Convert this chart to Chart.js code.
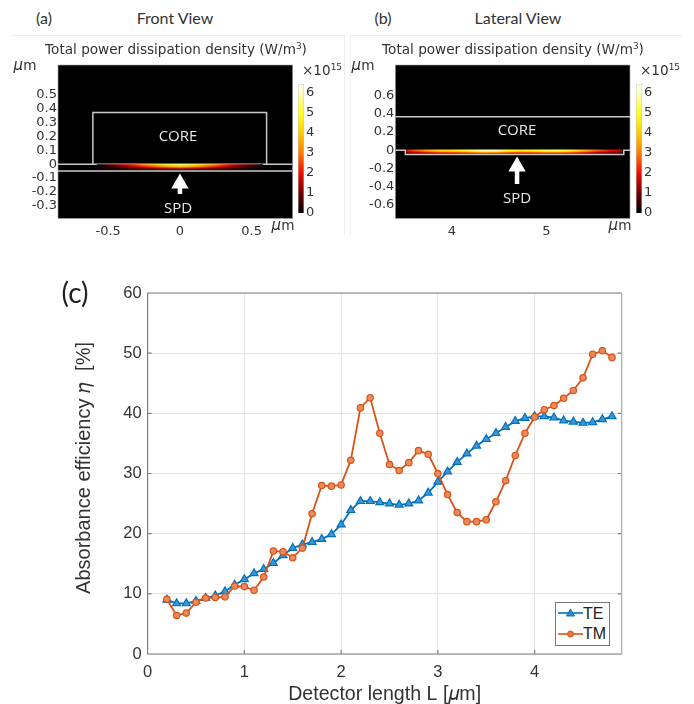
<!DOCTYPE html>
<html>
<head>
<meta charset="utf-8">
<script src="https://cdn.jsdelivr.net/npm/chart.js@4"></script>
<style>
html, body { margin: 0; padding: 0; background: #fff; }
#page { position: relative; width: 694px; height: 704px; overflow: hidden; }
canvas { position: absolute; display: block; }
.blurred { filter: blur(0.55px); }
.soft { filter: blur(0.3px); }
.lbl { position: absolute; white-space: nowrap; line-height: 1; transform: translate(-50%, -50%); }
.head { font-family: "Lato", sans-serif; font-size: 16px; color: #333; }
.dv { font-family: "DejaVu Sans", sans-serif; font-size: 13.6px; color: #333; filter: blur(0.35px); }
.dv sup { font-size: 9px; vertical-align: 5px; line-height: 0; }
.um i { font-size: 15px; }
.white { font-family: "Open Sans", sans-serif; font-size: 15px; color: #e8e8e8; filter: blur(0.3px); }
.frame { position: absolute; background: #eee; }
#legend { position: absolute; left: 555px; top: 602px; width: 53px; height: 42px; background: #fff; border: 1px solid #777; font-family: "Liberation Sans", sans-serif; font-size: 16px; color: #222; }
#legend svg { position: absolute; left: 1px; width: 26px; height: 14px; }
#legend span { position: absolute; left: 27px; line-height: 18px; }
</style>
</head>
<body>
<div id="page">
  <div class="frame" style="left:13px;top:35px;width:331px;height:1px"></div>
  <div class="frame" style="left:344px;top:35px;width:1px;height:200px"></div>
  <div class="frame" style="left:350px;top:35px;width:332px;height:1px"></div>
  <div class="frame" style="left:350px;top:35px;width:1px;height:200px"></div>

  <canvas id="panelA" width="345" height="190" class="blurred" style="left:0;top:55px"></canvas>
  <canvas id="panelB" width="290" height="190" class="blurred" style="left:350px;top:55px"></canvas>
  <canvas id="barA" width="55" height="150" class="blurred" style="left:290px;top:76px"></canvas>
  <canvas id="barB" width="55" height="150" class="blurred" style="left:628px;top:76px"></canvas>
  <canvas id="chartC" width="634" height="424" class="soft" style="left:60px;top:280px"></canvas>

  <div class="lbl head" style="left:44px;top:18px">(a)</div>
  <div class="lbl head" style="left:175px;top:18px">Front View</div>
  <div class="lbl head" style="left:383px;top:18px">(b)</div>
  <div class="lbl head" style="left:518px;top:18px">Lateral View</div>
  <div class="lbl head" style="left:75px;top:292px;font-size:28px;color:#222">(c)</div>

  <div class="lbl dv" style="left:176px;top:50px">Total power dissipation density (W/m<sup>3</sup>)</div>
  <div class="lbl dv" style="left:513px;top:50px">Total power dissipation density (W/m<sup>3</sup>)</div>
  <div class="lbl dv" style="left:322px;top:71px">×10<sup>15</sup></div>
  <div class="lbl dv" style="left:660px;top:71px">×10<sup>15</sup></div>
  <div class="lbl dv um" style="left:25px;top:65px"><i>μ</i>m</div>
  <div class="lbl dv um" style="left:283px;top:225px"><i>μ</i>m</div>
  <div class="lbl dv um" style="left:363px;top:65px"><i>μ</i>m</div>
  <div class="lbl dv um" style="left:620px;top:225px"><i>μ</i>m</div>

  <div class="lbl white" style="left:178px;top:135px">CORE</div>
  <div class="lbl white" style="left:178px;top:207px">SPD</div>
  <div class="lbl white" style="left:517px;top:129px">CORE</div>
  <div class="lbl white" style="left:517px;top:197px">SPD</div>

  <div id="legend">
    <svg style="top:3px"><line x1="1" y1="7" x2="26" y2="7" stroke="#0072BD" stroke-width="1.6"/><path d="M13.5 3 L17.5 10 L9.5 10 Z" fill="#2f8ccb" stroke="#0072BD"/></svg>
    <span style="top:2px">TE</span>
    <svg style="top:24px"><line x1="1" y1="7" x2="26" y2="7" stroke="#D95319" stroke-width="1.6"/><circle cx="13.5" cy="7" r="3" fill="#e8743f" stroke="#D95319"/></svg>
    <span style="top:22px">TM</span>
  </div>
</div>

<script>
// chart (c)
var detectorLength = [0.2,0.3,0.4,0.5,0.6,0.7,0.8,0.9,1.0,1.1,1.2,1.3,1.4,1.5,1.6,1.7,1.8,1.9,2.0,2.1,2.2,2.3,2.4,2.5,
    2.6,2.7,2.8,2.9,3.0,3.1,3.2,3.3,3.4,3.5,3.6,3.7,3.8,3.9,4.0,4.1,4.2,4.3,4.4,4.5,4.6,4.7,4.8];
var teValues = [9.0,8.4,8.4,8.8,9.3,9.7,10.4,11.5,12.4,13.4,14.1,15.1,16.4,17.6,18.2,18.6,19.1,19.9,21.5,23.9,25.4,25.4,25.2,25.0,
    24.8,25.0,25.5,26.8,28.6,30.3,31.9,33.3,34.6,35.7,36.7,37.7,38.7,39.2,39.5,39.5,39.3,38.8,38.6,38.4,38.5,39.0,39.5];
var tmValues = [9.1,6.4,6.8,8.6,9.3,9.4,9.5,11.3,11.2,10.6,12.8,17.1,17.0,16.0,17.6,23.3,28.0,27.9,28.1,32.2,40.9,42.6,36.7,31.5,
    30.5,31.8,33.8,33.2,30.0,26.5,23.5,22.0,22.0,22.3,25.3,28.8,33.0,36.7,39.4,40.6,41.3,42.5,43.8,45.9,49.8,50.4,49.3];
var tickColor = '#333';

// panel (a) front view, µm
var frontTicksX = [-0.5, 0, 0.5];
var frontTicksY = [-0.3, -0.2, -0.1, 0, 0.1, 0.2, 0.3, 0.4, 0.5];
var coreFrontX = [-0.607, -0.607, 0.604, 0.604];
var coreFrontY = [0, 0.373, 0.373, 0];
var slabFrontTop = 0;
var slabFrontBottom = -0.05;
// peak dissipation along the band, x10^15
var frontX = [-0.58,-0.5,-0.45,-0.4,-0.35,-0.3,-0.25,-0.2,-0.15,-0.1,-0.05,0,0.05,0.1,0.15,0.2,0.25,0.3,0.35,0.4,0.45,0.5,0.58];
var frontPeak = [0,0.7,1.1,1.5,2.0,2.5,3.1,3.6,4.2,4.8,5.2,5.5,5.2,4.8,4.2,3.6,3.1,2.5,2.0,1.5,1.1,0.7,0];
var frontRowsY = [-0.006, -0.016, -0.026, -0.036];
var frontRowsK = [1, 0.72, 0.45, 0.2];

// panel (b) lateral view, µm
var lateralTicksX = [4, 5];
var lateralTicksY = [-0.6, -0.4, -0.2, 0, 0.2, 0.4, 0.6];
var boxLateralX = [3.403, 3.509, 3.509, 5.818, 5.818, 5.884];
var boxLateralY = [0, 0, -0.047, -0.047, 0, 0];
var coreLateralY = 0.365;
var lateralX = [3.52,3.64,3.76,3.88,4.0,4.12,4.24,4.36,4.48,4.6,4.72,4.84,4.96,5.08,5.2,5.32,5.44,5.56,5.68,5.8];
var lateralPeak = [2.0,2.8,3.6,4.2,4.4,4.8,5.6,6.0,5.8,5.0,4.6,4.8,5.2,5.4,5.2,4.4,3.4,2.6,2.0,1.6];
var lateralRowsY = [-0.003, -0.013, -0.024, -0.034];
var lateralRowsK = [1, 0.78, 0.5, 0.3];

// colour bar
var barTicks = [0, 1, 2, 3, 4, 5, 6];
var barMax = 6.45;
var heatStops = [[0,0,0,0],[1,110,0,0],[2,240,10,0],[3,255,125,0],[4,255,205,0],[5,255,255,30],[6,255,255,190],[6.45,255,255,255]];

function heatColor(v) {
    for (var i = 1; i < heatStops.length; i++) {
        if (v <= heatStops[i][0]) {
            var a = heatStops[i - 1], b = heatStops[i];
            var t = (v - a[0]) / (b[0] - a[0]);
            return 'rgb(' + [1, 2, 3].map(function (k) { return Math.round(a[k] + (b[k] - a[k]) * t); }).join(',') + ')';
        }
    }
    return 'rgb(255,255,255)';
}

function pairs(xs, ys) {
    return xs.map(function (x, i) { return { x: x, y: ys[i] }; });
}

// a row of the band: stroke follows the profile through the x scale
function heatRow(y, k, xs, peak) {
    return {
        data: [{ x: xs[0], y: y }, { x: xs[xs.length - 1], y: y }],
        borderWidth: 1.7,
        pointRadius: 0,
        borderColor: function (c) {
            var sx = c.chart.scales.x;
            var x0 = sx ? sx.getPixelForValue(xs[0]) : NaN, x1 = sx ? sx.getPixelForValue(xs[xs.length - 1]) : NaN;
            if (!isFinite(x0) || !isFinite(x1)) return '#000';
            var g = c.chart.ctx.createLinearGradient(x0, 0, x1, 0);
            xs.forEach(function (x, i) {
                g.addColorStop((x - xs[0]) / (xs[xs.length - 1] - xs[0]), heatColor(peak[i] * k));
            });
            return g;
        }
    };
}

function outline(xs, ys) {
    return { data: pairs(xs, ys), borderColor: '#c8c8c8', borderWidth: 1.5, pointRadius: 0 };
}

function arrow(x, tailY, headY) {
    return {
        data: [{ x: x, y: tailY }, { x: x, y: headY }],
        borderColor: '#fff',
        backgroundColor: '#fff',
        borderWidth: 4.5,
        pointStyle: 'triangle',
        pointRadius: [0, 10],
        pointBorderWidth: 0
    };
}

var blackPlot = {
    id: 'blackPlot',
    beforeDatasetsDraw: function (chart) {
        var a = chart.chartArea;
        chart.ctx.fillStyle = '#000';
        chart.ctx.fillRect(a.left, a.top, a.width, a.height);
    },
    afterDatasetsDraw: function (chart) {
        var a = chart.chartArea;
        chart.ctx.strokeStyle = '#aaa';
        chart.ctx.lineWidth = 0.6;
        chart.ctx.strokeRect(a.left, a.top, a.width, a.height);
    }
};

// tick label overhang must not move the plot rectangle
function noOverhang(s) {
    s.paddingTop = 0; s.paddingBottom = 0; s.paddingLeft = 0; s.paddingRight = 0;
}

function heatPanel(id, datasets, xr, yr, tx, ty, leftW, pad) {
    return new Chart(document.getElementById(id), {
        type: 'line',
        data: { datasets: datasets },
        plugins: [blackPlot],
        options: {
            responsive: false,
            animation: false,
            layout: { padding: pad },
            plugins: { legend: { display: false }, tooltip: { enabled: false } },
            scales: {
                x: {
                    type: 'linear', min: xr[0], max: xr[1],
                    grid: { display: false, drawTicks: false }, border: { display: false },
                    afterBuildTicks: function (s) { s.ticks = tx.map(function (v) { return { value: v }; }); },
                    afterFit: function (s) { s.height = 26.5; noOverhang(s); },
                    ticks: { autoSkip: false, maxRotation: 0, padding: 5.5, color: tickColor, font: { family: 'DejaVu Sans', size: 13 } }
                },
                y: {
                    min: yr[0], max: yr[1],
                    grid: { display: false, drawTicks: false }, border: { display: false },
                    afterBuildTicks: function (s) { s.ticks = ty.map(function (v) { return { value: v }; }); },
                    afterFit: function (s) { s.width = leftW; noOverhang(s); },
                    ticks: { autoSkip: false, padding: 1, color: tickColor, font: { family: 'DejaVu Sans', size: 13 } }
                }
            }
        }
    });
}

var frontSets = [];
frontRowsY.forEach(function (y, i) { frontSets.push(heatRow(y, frontRowsK[i], frontX, frontPeak)); });
frontSets.push(outline(coreFrontX, coreFrontY));
frontSets.push(outline([-0.85, 0.786], [slabFrontTop, slabFrontTop]));
frontSets.push(outline([-0.85, 0.786], [slabFrontBottom, slabFrontBottom]));
frontSets.push(arrow(0, -0.215, -0.139));
heatPanel('panelA', frontSets, [-0.85, 0.786], [-0.392, 0.715], frontTicksX, frontTicksY, 58,
    { left: 0, right: 52.3, top: 4, bottom: 0 });

var lateralSets = [];
lateralSets.push(outline([3.403, 5.884], [coreLateralY, coreLateralY]));
lateralSets.push(outline(boxLateralX, boxLateralY));
lateralRowsY.forEach(function (y, i) { lateralSets.push(heatRow(y, lateralRowsK[i], lateralX, lateralPeak)); });
lateralSets.push(arrow(4.69, -0.37, -0.179));
heatPanel('panelB', lateralSets, [3.403, 5.884], [-0.747, 0.93], lateralTicksX, lateralTicksY, 45.3,
    { left: 0, right: 9, top: 4, bottom: 0 });

function colorBar(id) {
    new Chart(document.getElementById(id), {
        type: 'bar',
        data: {
            labels: [''],
            datasets: [{
                data: [[0, barMax]],
                barPercentage: 1,
                categoryPercentage: 1,
                borderWidth: 0.8,
                borderColor: '#c4c4c4',
                backgroundColor: function (c) {
                    var sy = c.chart.scales.y;
                    var y0 = sy ? sy.getPixelForValue(0) : NaN, y1 = sy ? sy.getPixelForValue(barMax) : NaN;
                    if (!isFinite(y0) || !isFinite(y1)) return '#000';
                    var g = c.chart.ctx.createLinearGradient(0, y0, 0, y1);
                    heatStops.forEach(function (s) { g.addColorStop(s[0] / barMax, heatColor(s[0])); });
                    return g;
                }
            }]
        },
        options: {
            responsive: false,
            animation: false,
            layout: { padding: { left: 8, right: 0, top: 8, bottom: 13 } },
            plugins: { legend: { display: false }, tooltip: { enabled: false } },
            scales: {
                x: { display: false },
                y: {
                    position: 'right', min: 0, max: barMax,
                    grid: { display: false, drawTicks: false }, border: { display: false },
                    afterBuildTicks: function (s) { s.ticks = barTicks.map(function (v) { return { value: v }; }); },
                    afterFit: function (s) { s.width = 41; noOverhang(s); },
                    ticks: { padding: 2, color: tickColor, font: { family: 'DejaVu Sans', size: 13 } }
                }
            }
        }
    });
}
colorBar('barA');
colorBar('barB');

// frame and inward ticks of chart (c)
var boxTicks = {
    id: 'boxTicks',
    afterDatasetsDraw: function (chart) {
        var c = chart.ctx, a = chart.chartArea;
        c.save();
        c.strokeStyle = '#808080';
        c.lineWidth = 1.2;
        c.beginPath();
        c.moveTo(a.right, a.top); c.lineTo(a.left, a.top); c.lineTo(a.left, a.bottom); c.lineTo(a.right, a.bottom);
        chart.scales.x.ticks.forEach(function (t) {
            var p = chart.scales.x.getPixelForValue(t.value);
            c.moveTo(p, a.bottom); c.lineTo(p, a.bottom - 4);
        });
        chart.scales.y.ticks.forEach(function (t) {
            var p = chart.scales.y.getPixelForValue(t.value);
            c.moveTo(a.left, p); c.lineTo(a.left + 4, p);
            c.moveTo(a.right, p); c.lineTo(a.right - 4, p);
        });
        c.stroke();
        c.strokeStyle = '#aaa';
        c.beginPath();
        c.moveTo(a.right, a.top); c.lineTo(a.right, a.bottom);
        c.stroke();
        c.restore();
    }
};

new Chart(document.getElementById('chartC'), {
    type: 'line',
    data: {
        datasets: [{
            label: 'TE',
            data: pairs(detectorLength, teValues),
            order: 2,
            borderColor: '#0072BD',
            borderWidth: 1.8,
            pointStyle: 'triangle',
            pointRadius: 4.6,
            pointBorderWidth: 1.2,
            pointBorderColor: '#0072BD',
            pointBackgroundColor: '#3f97d2'
        }, {
            label: 'TM',
            data: pairs(detectorLength, tmValues),
            order: 1,
            borderColor: '#D95319',
            borderWidth: 1.8,
            pointStyle: 'circle',
            pointRadius: 3.2,
            pointBorderWidth: 1.2,
            pointBorderColor: '#D95319',
            pointBackgroundColor: '#ea8a5c'
        }]
    },
    plugins: [boxTicks],
    options: {
        responsive: false,
        animation: false,
        layout: { padding: { left: 0, right: 72.3, top: 13, bottom: 0 } },
        plugins: { legend: { display: false }, tooltip: { enabled: false } },
        scales: {
            x: {
                type: 'linear', min: 0, max: 4.9,
                grid: { color: '#e4e4e4', drawTicks: false },
                border: { display: false },
                afterFit: function (s) { s.height = 50; noOverhang(s); },
                ticks: { stepSize: 1, includeBounds: false, maxRotation: 0, padding: 9, color: tickColor, font: { family: 'Liberation Sans', size: 16.5 } },
                title: { display: true, text: 'Detector length L [𝜇m]', color: tickColor, padding: { top: 0, bottom: -2 }, font: { family: 'Liberation Sans', size: 19.6 } }
            },
            y: {
                min: 0, max: 60,
                grid: { color: '#e4e4e4', drawTicks: false },
                border: { display: false },
                afterFit: function (s) { s.width = 87.6; noOverhang(s); },
                ticks: { stepSize: 10, padding: 6, color: tickColor, font: { family: 'Liberation Sans', size: 16.5 } },
                title: { display: true, text: '  Absorbance efficiency 𝜂  [%]', color: tickColor, padding: { top: 12, bottom: 0 }, font: { family: 'Liberation Sans', size: 20 } }
            }
        }
    }
});
</script>
</body>
</html>
